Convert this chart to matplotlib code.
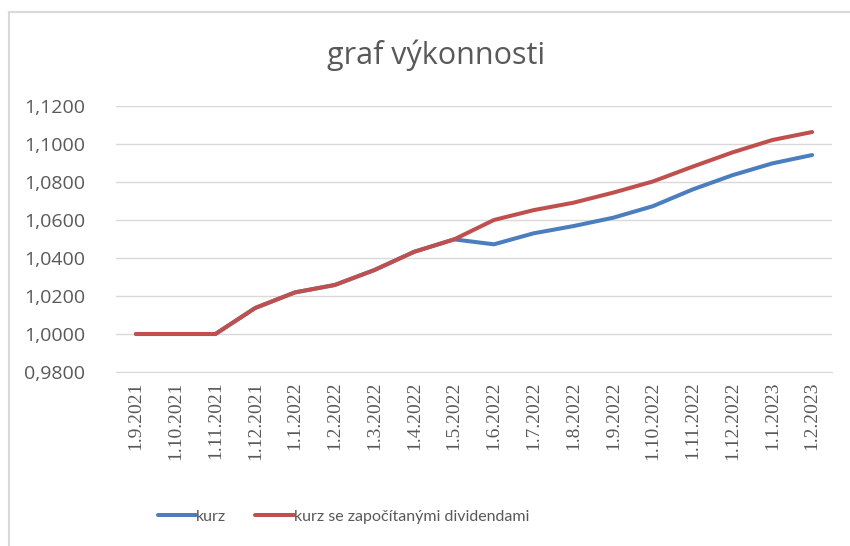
import matplotlib
matplotlib.use("Agg")
import matplotlib.pyplot as plt
from matplotlib.lines import Line2D
from matplotlib.ticker import FuncFormatter

dates = ["1.9.2021", "1.10.2021", "1.11.2021", "1.12.2021", "1.1.2022", "1.2.2022",
         "1.3.2022", "1.4.2022", "1.5.2022", "1.6.2022", "1.7.2022", "1.8.2022",
         "1.9.2022", "1.10.2022", "1.11.2022", "1.12.2022", "1.1.2023", "1.2.2023"]
kurz = [1.0000, 1.0000, 1.0000, 1.0137, 1.0219, 1.0258, 1.0337, 1.0433, 1.0498,
        1.0472, 1.0530, 1.0568, 1.0612, 1.0673, 1.0761, 1.0836, 1.0898, 1.0942]
kurz_div = [1.0000, 1.0000, 1.0000, 1.0137, 1.0219, 1.0258, 1.0337, 1.0433, 1.0498,
            1.0600, 1.0652, 1.0691, 1.0744, 1.0803, 1.0881, 1.0956, 1.1021, 1.1063]
series_names = ["kurz", "kurz se započítanými dividendami"]

BLUE = "#4a7ebf"
RED = "#c0504d"
GREY = "#595959"

fig = plt.figure(figsize=(8.5, 5.46), dpi=100)
ax = fig.add_axes([116 / 850, 1 - 372 / 546, (832 - 116) / 850, (372 - 106) / 546])

x = list(range(len(dates)))
ax.plot(x, kurz, color=BLUE, lw=2.9, solid_capstyle="round", label=series_names[0])
ax.plot(x, kurz_div, color=RED, lw=2.9, solid_capstyle="round", label=series_names[1])

ax.set_xlim(-0.5, len(dates) - 0.5)
ax.set_ylim(0.98, 1.12)
ax.set_yticks([0.98 + 0.02 * i for i in range(8)])
ax.yaxis.set_major_formatter(FuncFormatter(lambda v, _: f"{v:.4f}".replace(".", ",")))
ax.set_xticks(x)
ax.set_xticklabels(dates, rotation=90, fontfamily="Liberation Serif", fontsize=14, color=GREY)
for lab in ax.get_yticklabels():
    lab.set_fontfamily("Open Sans")
    lab.set_fontsize(14)
    lab.set_color(GREY)

ax.grid(axis="y", color="#d9d9d9", lw=1)
ax.set_axisbelow(True)
for s in ["left", "right", "top"]:
    ax.spines[s].set_visible(False)
ax.spines["bottom"].set_color("#d9d9d9")
ax.tick_params(axis="x", length=0, pad=7)
ax.tick_params(axis="y", length=0, pad=22)

fig.text(436 / 850, 1 - 55 / 546, "graf výkonnosti", ha="center", va="center",
         fontfamily="Open Sans", fontsize=22, color=GREY)

# chart border (partially cropped in the original screenshot)
fig.add_artist(Line2D([8.5 / 850, 8.5 / 850], [0, 1 - 12 / 546], color="#d9d9d9", lw=1.5))
fig.add_artist(Line2D([8.5 / 850, 1], [1 - 12 / 546, 1 - 12 / 546], color="#d9d9d9", lw=1.5))

fig.legend(loc="center left", bbox_to_anchor=(150 / 850, 1 - 517 / 546), ncol=2, frameon=False,
           handlelength=2.4, handletextpad=0.0, columnspacing=1.8, borderpad=0,
           prop={"family": "Lato", "size": 11.5}, labelcolor=GREY)

fig.savefig("out.png", dpi=100)
